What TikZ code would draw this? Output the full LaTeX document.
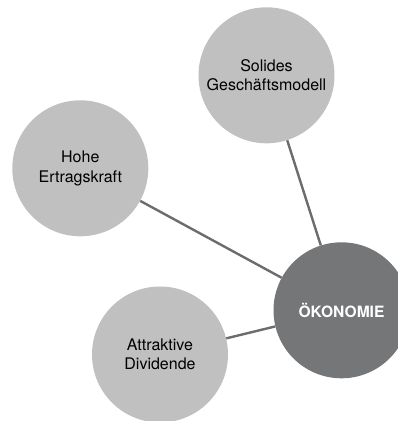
\documentclass[tikz,border=0pt]{standalone}
\usepackage{fontspec}
\setmainfont{TeX Gyre Heros}
\definecolor{hellgrau}{RGB}{192,192,193}
\definecolor{dunkelgrau}{RGB}{117,118,120}
\definecolor{liniengrau}{RGB}{108,108,110}
\tikzset{
  bubble/.style={circle,fill=hellgrau,minimum size=136pt,inner sep=0pt,align=center,
    font=\fontsize{16}{19.3}\selectfont},
  kern/.style={bubble,fill=dunkelgrau,text=white,font=\fontsize{15.6}{19}\selectfont\bfseries},
  link/.style={draw=liniengrau,line width=2.4pt}
}
\begin{document}
\begin{tikzpicture}[x=1pt,y=1pt]
	\useasboundingbox (0,0) rectangle (398,421);
	\clip (0,0) rectangle (398,421);
	\node[bubble] (solides) at (266.5,345.7) {Solides\\Geschäftsmodell};
	\node[bubble] (ertrag) at (80.3,252.7) {Hohe\\Ertragskraft};
	\node[bubble] (dividende) at (160,66.5) {Attraktive\\Dividende};
	\node[kern] (oekonomie) at (341.5,110.7) {ÖKONOMIE};
	\draw[link] (solides) -- (oekonomie);
	\draw[link] (ertrag) -- (oekonomie);
	\draw[link] (dividende) -- (oekonomie);
\end{tikzpicture}
\end{document}
